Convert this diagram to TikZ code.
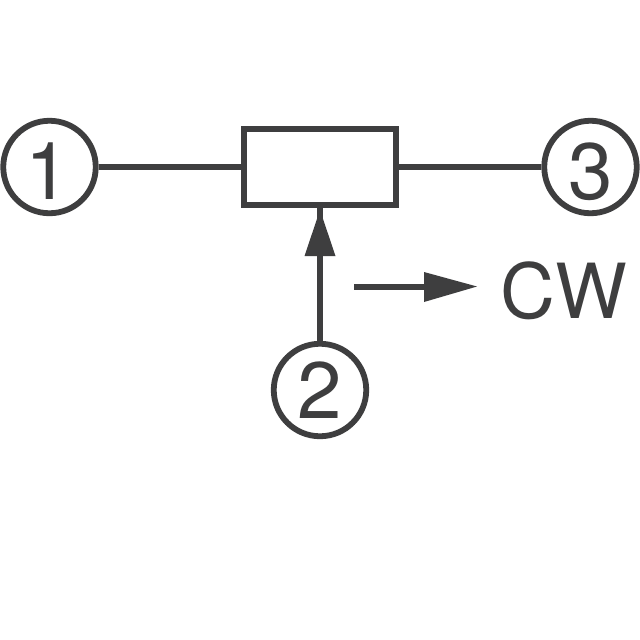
\documentclass[tikz,border=0pt]{standalone}
\usepackage{fontspec}
\setmainfont{TeX Gyre Heros}
\definecolor{ink}{RGB}{62,62,63}
\tikzset{
  term/.style={circle,draw=ink,line width=5.8pt,minimum size=92.5pt,inner sep=0pt},
  digit/.style={text=ink,inner sep=0pt,font=\fontsize{80pt}{88pt}\selectfont},
  wire/.style={draw=ink,line width=6pt},
  body/.style={rectangle,draw=ink,line width=5.8pt,minimum width=152.5pt,minimum height=76.5pt,inner sep=0pt},
  head/.style={fill=ink,draw=none}
}
\begin{document}
\begin{tikzpicture}[x=1pt,y=-1pt]
\useasboundingbox (0,0) rectangle (640,640);
\fill[white] (0,0) rectangle (640,640);
\node[body] (r) at (320,167) {};
\node[term] (a) at (49.5,167) {};
\node[term] (c) at (590.5,167) {};
\node[term] (b) at (320,390) {};
\node[digit] (d1) at (47.5,171.5) {1};
\node[digit] (d3) at (590.5,172) {3};
\node[digit] (d2) at (320,390.5) {2};
\draw[wire] (a) -- (r);
\draw[wire] (r) -- (c);
\coordinate (tp) at (320,208);
\draw[wire] (b) -- (tp);
\fill[head] (320,210) -- (335.5,256) -- (304.5,256) -- cycle;
\coordinate (s) at (354,286.5);
\coordinate (m) at (430,286.5);
\draw[wire] (s) -- (m);
\fill[head] (477,286.5) -- (424,272) -- (424,302) -- cycle;
\node[text=ink,inner sep=0pt,font=\fontsize{76pt}{84pt}\selectfont] (cw) at (564,291) {CW};
\end{tikzpicture}
\end{document}
